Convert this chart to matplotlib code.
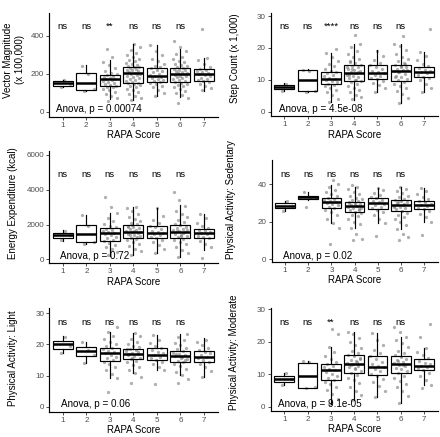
import numpy as np
import matplotlib
matplotlib.use("Agg")
import matplotlib.pyplot as plt

plt.rcParams["font.family"] = ["Liberation Sans", "DejaVu Sans"]

rapa = [1, 2, 3, 4, 5, 6, 7]

# box summaries per RAPA score: (lower whisker, q1, median, q3, upper whisker)
vm_box = [(130, 138, 149, 160, 168), (110, 114, 154, 203, 246), (68, 135, 171, 192, 272),
          (60, 154, 202, 237, 356), (84, 156, 188, 232, 354), (80, 158, 200, 230, 330),
          (110, 161, 197, 223, 283)]
step_box = [(6.6, 7.0, 7.6, 8.4, 8.9), (6.2, 6.5, 9.9, 13.1, 13.3), (3.1, 8.6, 10.2, 12.5, 18.3),
            (3.7, 9.6, 12.2, 14.6, 21.4), (6.3, 10.1, 12.0, 14.6, 19.3), (2.6, 9.7, 12.9, 14.6, 21.4),
            (6.3, 10.8, 12.5, 14.1, 18.8)]
ee_box = [(1050, 1208, 1400, 1533, 1680), (880, 1016, 1438, 1975, 2550), (210, 1073, 1495, 1783, 2645),
          (250, 1246, 1591, 1975, 3030), (345, 1208, 1495, 1917, 2970), (150, 1208, 1591, 1975, 3125),
          (540, 1246, 1514, 1745, 2590)]
sed_box = [(25.8, 27.1, 28.3, 29.7, 31.2), (31.5, 31.9, 32.9, 33.6, 36.0), (19.1, 27.1, 30.3, 32.4, 39.5),
           (16.8, 25.3, 28.3, 30.6, 38.6), (19.1, 26.7, 29.7, 32.4, 37.7), (15.9, 25.8, 28.8, 31.5, 38.6),
           (20.0, 26.5, 28.8, 31.0, 38.1)]
light_box = [(17.1, 18.4, 20.0, 21.2, 22.7), (13.9, 16.3, 18.0, 19.3, 20.9), (9.1, 14.7, 17.4, 19.0, 24.1),
             (10.7, 15.2, 16.8, 18.5, 23.8), (11.8, 15.0, 16.7, 18.8, 23.0), (10.2, 14.5, 16.4, 17.9, 23.4),
             (9.6, 14.5, 16.1, 18.0, 22.0)]
mod_box = [(6.7, 7.7, 8.7, 9.5, 10.3), (5.9, 5.9, 9.6, 13.6, 14.1), (1.0, 8.2, 11.3, 13.2, 18.5),
           (2.0, 10.3, 13.3, 15.8, 23.1), (3.1, 9.8, 12.3, 15.6, 22.8), (1.2, 10.3, 13.2, 15.6, 21.6),
           (6.7, 11.3, 12.5, 14.6, 18.0)]

# individual participants (approximate reading of the jittered points)
vm_points = [
    [130, 148, 165],
    [110, 118, 200, 243],
    [55, 70, 85, 95, 105, 112, 120, 128, 133, 138, 142, 148, 152, 158, 163, 168, 171, 175,
     180, 184, 188, 192, 197, 205, 215, 228, 245, 262, 290, 330],
    [62, 72, 85, 95, 105, 112, 120, 128, 135, 140, 145, 150, 154, 158, 163, 168, 173, 178,
     183, 188, 193, 197, 201, 205, 209, 213, 218, 222, 226, 230, 234, 238, 242, 247, 252,
     258, 265, 272, 280, 290, 300, 312, 325, 340, 355],
    [85, 100, 115, 128, 138, 146, 152, 157, 162, 168, 174, 180, 185, 189, 194, 200, 207, 214,
     221, 228, 234, 242, 252, 265, 280, 300, 320, 352],
    [45, 75, 88, 100, 110, 120, 128, 136, 142, 148, 153, 158, 162, 167, 172, 177, 181, 186,
     190, 194, 198, 202, 206, 210, 214, 218, 222, 226, 230, 235, 240, 246, 253, 260, 268,
     278, 290, 305, 320, 340, 375],
    [112, 125, 138, 148, 155, 160, 165, 172, 180, 188, 194, 198, 203, 208, 214, 220, 225,
     235, 250, 270, 285, 438],
]
step_points = [
    [6.6, 7.5, 8.8],
    [6.1, 6.4, 12.9, 13.2],
    [2.9, 4.0, 5.2, 6.0, 6.8, 7.4, 7.9, 8.4, 8.8, 9.2, 9.6, 10.0, 10.3, 10.7, 11.1, 11.6,
     12.0, 12.4, 12.9, 13.5, 14.2, 15.0, 16.0, 17.2, 18.3, 19.7],
    [3.8, 4.5, 5.3, 6.0, 6.8, 7.5, 8.1, 8.7, 9.2, 9.6, 10.0, 10.4, 10.8, 11.2, 11.6, 12.0,
     12.3, 12.7, 13.1, 13.5, 13.9, 14.3, 14.7, 15.2, 15.8, 16.5, 17.2, 18.0, 19.0, 20.2,
     21.4, 24.0, 11.4, 12.5, 13.3, 14.0, 9.9, 15.5],
    [6.3, 7.4, 8.3, 9.1, 9.7, 10.2, 10.7, 11.2, 11.6, 12.0, 12.4, 12.9, 13.5, 14.1, 14.7,
     15.4, 16.3, 17.4, 19.0],
    [2.6, 4.2, 5.5, 6.5, 7.3, 8.0, 8.7, 9.3, 9.8, 10.3, 10.8, 11.3, 11.8, 12.3, 12.7, 13.1,
     13.5, 13.9, 14.3, 14.7, 15.2, 15.8, 16.5, 17.3, 18.2, 19.3, 20.5, 21.4, 23.9, 12.5,
     13.0, 14.0, 11.0, 15.0],
    [6.3, 7.5, 8.8, 9.8, 10.5, 11.0, 11.5, 12.0, 12.4, 12.8, 13.2, 13.7, 14.2, 15.0, 16.2,
     17.5, 18.8, 26.0],
]
ee_points = [
    [1100, 1400, 1650],
    [880, 1000, 1900, 2550],
    [250, 420, 580, 720, 850, 960, 1050, 1130, 1210, 1290, 1370, 1440, 1500, 1560, 1620,
     1690, 1760, 1830, 1920, 2050, 2200, 2400, 2650, 3000, 3600],
    [260, 450, 620, 780, 900, 1010, 1100, 1180, 1250, 1320, 1390, 1450, 1510, 1570, 1620,
     1680, 1740, 1800, 1870, 1940, 2010, 2100, 2200, 2320, 2450, 2600, 2780, 2950, 3030,
     1400, 1550, 1650, 1850, 1300, 1950],
    [345, 600, 820, 980, 1100, 1200, 1290, 1370, 1440, 1500, 1570, 1650, 1740, 1840, 1930,
     2060, 2250, 2500, 2970],
    [150, 380, 560, 720, 860, 980, 1090, 1180, 1260, 1340, 1410, 1480, 1550, 1610, 1670,
     1730, 1800, 1870, 1950, 2040, 2150, 2280, 2430, 2600, 2800, 3050, 3400, 3850, 1500,
     1600, 1700, 1350],
    [60, 700, 900, 1080, 1200, 1280, 1360, 1430, 1500, 1560, 1630, 1700, 1780, 1900, 2100,
     2350, 2590],
]
sed_points = [
    [25.8, 28.3, 31.0],
    [28.0, 32.5, 33.2, 35.8],
    [8.1, 16.5, 19.1, 21.5, 23.5, 25.0, 26.2, 27.2, 28.0, 28.8, 29.5, 30.1, 30.6, 31.1,
     31.6, 32.2, 32.8, 33.6, 34.5, 35.7, 37.0, 38.5, 40.0, 42.0],
    [10.2, 11.0, 13.5, 16.8, 18.5, 20.0, 21.5, 22.8, 23.8, 24.6, 25.3, 26.0, 26.6, 27.2,
     27.8, 28.3, 28.8, 29.3, 29.8, 30.3, 30.8, 31.4, 32.0, 32.8, 33.7, 34.8, 36.0, 37.3,
     38.6, 39.5, 27.5, 29.0, 30.0, 26.3],
    [12.5, 19.1, 21.5, 23.5, 25.0, 26.2, 27.2, 28.0, 28.8, 29.5, 30.2, 30.9, 31.6, 32.4,
     33.3, 34.3, 35.5, 36.6, 37.7],
    [10.5, 12.0, 13.5, 15.9, 18.0, 19.8, 21.3, 22.6, 23.8, 24.8, 25.7, 26.5, 27.2, 27.9,
     28.5, 29.1, 29.7, 30.3, 30.9, 31.5, 32.2, 33.0, 33.9, 35.0, 36.3, 37.5, 38.6, 28.0,
     29.5, 30.6],
    [12.8, 20.0, 22.5, 24.3, 25.7, 26.6, 27.4, 28.1, 28.8, 29.5, 30.2, 30.9, 31.8, 33.0,
     34.5, 36.2, 38.1],
]
light_points = [
    [17.2, 19.5, 22.5],
    [13.9, 16.5, 18.2, 20.9],
    [4.7, 9.1, 10.5, 11.8, 12.8, 13.6, 14.3, 14.9, 15.5, 16.1, 16.7, 17.2, 17.6, 18.0, 18.4,
     18.9, 19.4, 20.0, 20.8, 21.7, 22.8, 24.1, 25.5],
    [7.5, 9.6, 10.7, 11.8, 12.7, 13.5, 14.2, 14.8, 15.3, 15.8, 16.2, 16.6, 17.0, 17.4, 17.8,
     18.2, 18.6, 19.1, 19.6, 20.2, 20.9, 21.7, 22.6, 23.8, 16.9, 17.6, 15.6, 18.4],
    [7.3, 11.8, 12.8, 13.7, 14.4, 15.0, 15.6, 16.1, 16.6, 17.1, 17.6, 18.2, 18.8, 19.5,
     20.3, 21.5, 23.0],
    [7.5, 9.0, 10.2, 11.3, 12.2, 13.0, 13.7, 14.3, 14.8, 15.3, 15.8, 16.2, 16.6, 17.0, 17.4,
     17.9, 18.4, 19.0, 19.7, 20.5, 21.4, 22.4, 23.4, 16.0, 16.8, 15.0],
    [9.4, 11.5, 12.8, 13.8, 14.5, 15.1, 15.7, 16.1, 16.6, 17.1, 17.6, 18.1, 18.8, 19.7,
     20.8, 21.5],
]
mod_points = [
    [6.7, 8.5, 10.3],
    [5.8, 6.0, 13.8, 14.1],
    [1.0, 2.5, 4.0, 5.2, 6.2, 7.0, 7.7, 8.3, 8.9, 9.5, 10.1, 10.7, 11.2, 11.7, 12.2, 12.7,
     13.2, 13.8, 14.6, 15.6, 16.8, 18.5, 22.5, 23.8],
    [2.0, 3.5, 5.0, 6.2, 7.3, 8.2, 9.0, 9.7, 10.3, 10.9, 11.5, 12.1, 12.6, 13.1, 13.5, 14.0,
     14.5, 15.0, 15.5, 16.0, 16.6, 17.3, 18.1, 19.0, 20.0, 21.2, 22.3, 23.1, 13.8, 12.9,
     14.8, 11.8],
    [3.1, 5.0, 6.5, 7.7, 8.7, 9.5, 10.2, 10.9, 11.5, 12.1, 12.6, 13.2, 13.9, 14.7, 15.5,
     16.4, 17.5, 19.0, 20.7, 22.8],
    [1.2, 3.3, 4.8, 6.0, 7.1, 8.0, 8.8, 9.6, 10.3, 10.9, 11.5, 12.0, 12.5, 13.0, 13.4, 13.8,
     14.3, 14.8, 15.3, 15.8, 16.5, 17.3, 18.3, 19.5, 20.7, 21.6, 23.0, 24.5, 12.8, 14.0],
    [5.9, 6.7, 8.2, 9.5, 10.5, 11.2, 11.8, 12.3, 12.7, 13.1, 13.6, 14.2, 14.9, 15.8, 17.0,
     18.0, 21.5, 25.5],
]

ylabels = ["Vector Magnitude\n(x 100,000)", "Step Count (x 1,000)", "Energy Expenditure (kcal)",
           "Physical Activity: Sedentary", "Physical Activity: Light", "Physical Activity: Moderate"]
yticks = [[0, 200, 400], [0, 10, 20, 30], [0, 2000, 4000, 6000], [0, 20, 40], [0, 10, 20, 30], [0, 10, 20, 30]]
signif = [["ns", "ns", "**", "ns", "ns", "ns"], ["ns", "ns", "****", "ns", "ns", "ns"], ["ns"] * 6,
          ["ns"] * 6, ["ns"] * 6, ["ns", "ns", "**", "ns", "ns", "ns"]]
anova_labels = ["Anova, p = 0.00074", "Anova, p = 4.5e-08", "Anova, p = 0.72",
                "Anova, p = 0.02", "Anova, p = 0.06", "Anova, p = 9.1e-05"]

boxes = [vm_box, step_box, ee_box, sed_box, light_box, mod_box]
points = [vm_points, step_points, ee_points, sed_points, light_points, mod_points]

# layout, pixel positions (left, top, right, bottom)
W, H = 440, 437
rects = [(49, 13, 218, 116.7), (270.7, 13, 438, 116), (49.3, 151, 218, 263.3),
         (271.7, 160, 438, 261.7), (49.3, 308.3, 218, 411.7), (270.7, 308.3, 438, 410.7)]
ylims = [(-26, 520), (-1.4, 31), (-229, 6229), (-1.3, 52.8), (-1.6, 31.6), (-1.2, 30.3)]
sig_y = [438, 25.9, 4754, 43.9, 26.3, 25.2]
anova_x = [0.70, 0.76, 0.86, 0.89, 0.90, 0.74]
ylab_pos = [(14, 60), (235, 58), (13, 203), (231, 200), (12.7, 358), (234, 352)]

fig = plt.figure(figsize=(W / 100, H / 100), dpi=100)

for k in range(6):
    l, t, r, b = rects[k]
    ax = fig.add_axes([l / W, 1 - b / H, (r - l) / W, (b - t) / H])

    for i, vals in enumerate(points[k]):
        vals = np.asarray(vals, dtype=float)
        n = len(vals)
        off = ((np.arange(n) * 0.618034 + 0.37) % 1 - 0.5) * 0.64
        ax.scatter(rapa[i] + off, vals, s=5.5, color="#7a7a7a", alpha=0.6,
                   linewidths=0, zorder=2)

    stats = [dict(whislo=s[0], q1=s[1], med=s[2], q3=s[3], whishi=s[4]) for s in boxes[k]]
    ax.bxp(stats, positions=rapa, widths=0.85, showfliers=False, showcaps=False,
           patch_artist=True,
           boxprops=dict(facecolor="none", edgecolor="black", linewidth=0.85),
           whiskerprops=dict(color="black", linewidth=0.85),
           medianprops=dict(color="black", linewidth=1.8, solid_capstyle="butt"))
    for c in ax.get_children():
        c.set_zorder(max(c.get_zorder(), 1))

    for i, lab in enumerate(signif[k]):
        ax.text(rapa[i], sig_y[k], lab, ha="center", va="baseline", fontsize=6.8, zorder=4)
    ax.text(anova_x[k], 0, anova_labels[k], ha="left", va="baseline", fontsize=7.1, zorder=4)

    ax.set_xlim(0.42, 7.6)
    ax.set_ylim(*ylims[k])
    ax.set_xticks(rapa)
    ax.set_xticklabels([str(v) for v in rapa])
    ax.set_yticks(yticks[k])
    for s in ["top", "right"]:
        ax.spines[s].set_visible(False)
    for s in ["left", "bottom"]:
        ax.spines[s].set_linewidth(0.85)
    ax.tick_params(length=2.2, width=0.6, color="#333333", labelsize=5.8,
                   labelcolor="#4d4d4d", pad=1.5)

    ax.set_xlabel("RAPA Score", fontsize=7, va="center")
    ax.xaxis.set_label_coords((l + r) / 2 / W, 1 - (b + 18.5) / H, transform=fig.transFigure)
    ax.set_ylabel(ylabels[k], fontsize=7, va="center", ha="center")
    ax.yaxis.set_label_coords(ylab_pos[k][0] / W, 1 - ylab_pos[k][1] / H, transform=fig.transFigure)

fig.savefig("out.png", dpi=100)
